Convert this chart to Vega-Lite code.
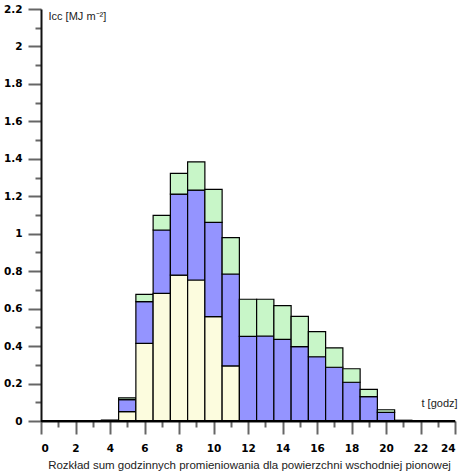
{
  "$schema": "https://vega.github.io/schema/vega-lite/v6.json",
  "width": 414,
  "height": 412,
  "autosize": {"type": "none"},
  "padding": {"left": 41, "top": 9, "right": 7, "bottom": 54},
  "background": "white",
  "config": {
    "view": {"stroke": null},
    "axis": {
      "labelFont": "DejaVu Sans",
      "labelFontSize": 10.5,
      "labelFontWeight": "bold",
      "labelColor": "black",
      "titleFont": "Liberation Sans",
      "titleFontSize": 11,
      "titleFontWeight": "normal",
      "titleColor": "#222",
      "domainColor": "#111111",
      "domainWidth": 2,
      "tickColor": "#666666",
      "tickWidth": 2,
      "grid": false
    }
  },
  "data": {
    "values": [
      {"godz": 1, "skladnik": "odbite", "warstwa": 3, "wartosc": 0.002},
      {"godz": 2, "skladnik": "odbite", "warstwa": 3, "wartosc": 0.002},
      {"godz": 3, "skladnik": "odbite", "warstwa": 3, "wartosc": 0.002},
      {"godz": 4, "skladnik": "rozproszone", "warstwa": 2, "wartosc": 0.005},
      {"godz": 5, "skladnik": "bezposrednie", "warstwa": 1, "wartosc": 0.05},
      {"godz": 5, "skladnik": "rozproszone", "warstwa": 2, "wartosc": 0.064},
      {"godz": 5, "skladnik": "odbite", "warstwa": 3, "wartosc": 0.01},
      {"godz": 6, "skladnik": "bezposrednie", "warstwa": 1, "wartosc": 0.415},
      {"godz": 6, "skladnik": "rozproszone", "warstwa": 2, "wartosc": 0.222},
      {"godz": 6, "skladnik": "odbite", "warstwa": 3, "wartosc": 0.039},
      {"godz": 7, "skladnik": "bezposrednie", "warstwa": 1, "wartosc": 0.682},
      {"godz": 7, "skladnik": "rozproszone", "warstwa": 2, "wartosc": 0.338},
      {"godz": 7, "skladnik": "odbite", "warstwa": 3, "wartosc": 0.078},
      {"godz": 8, "skladnik": "bezposrednie", "warstwa": 1, "wartosc": 0.779},
      {"godz": 8, "skladnik": "rozproszone", "warstwa": 2, "wartosc": 0.433},
      {"godz": 8, "skladnik": "odbite", "warstwa": 3, "wartosc": 0.11},
      {"godz": 9, "skladnik": "bezposrednie", "warstwa": 1, "wartosc": 0.753},
      {"godz": 9, "skladnik": "rozproszone", "warstwa": 2, "wartosc": 0.48},
      {"godz": 9, "skladnik": "odbite", "warstwa": 3, "wartosc": 0.151},
      {"godz": 10, "skladnik": "bezposrednie", "warstwa": 1, "wartosc": 0.557},
      {"godz": 10, "skladnik": "rozproszone", "warstwa": 2, "wartosc": 0.504},
      {"godz": 10, "skladnik": "odbite", "warstwa": 3, "wartosc": 0.176},
      {"godz": 11, "skladnik": "bezposrednie", "warstwa": 1, "wartosc": 0.294},
      {"godz": 11, "skladnik": "rozproszone", "warstwa": 2, "wartosc": 0.491},
      {"godz": 11, "skladnik": "odbite", "warstwa": 3, "wartosc": 0.194},
      {"godz": 12, "skladnik": "rozproszone", "warstwa": 2, "wartosc": 0.452},
      {"godz": 12, "skladnik": "odbite", "warstwa": 3, "wartosc": 0.198},
      {"godz": 13, "skladnik": "rozproszone", "warstwa": 2, "wartosc": 0.454},
      {"godz": 13, "skladnik": "odbite", "warstwa": 3, "wartosc": 0.196},
      {"godz": 14, "skladnik": "rozproszone", "warstwa": 2, "wartosc": 0.436},
      {"godz": 14, "skladnik": "odbite", "warstwa": 3, "wartosc": 0.18},
      {"godz": 15, "skladnik": "rozproszone", "warstwa": 2, "wartosc": 0.397},
      {"godz": 15, "skladnik": "odbite", "warstwa": 3, "wartosc": 0.162},
      {"godz": 16, "skladnik": "rozproszone", "warstwa": 2, "wartosc": 0.343},
      {"godz": 16, "skladnik": "odbite", "warstwa": 3, "wartosc": 0.134},
      {"godz": 17, "skladnik": "rozproszone", "warstwa": 2, "wartosc": 0.287},
      {"godz": 17, "skladnik": "odbite", "warstwa": 3, "wartosc": 0.104},
      {"godz": 18, "skladnik": "rozproszone", "warstwa": 2, "wartosc": 0.207},
      {"godz": 18, "skladnik": "odbite", "warstwa": 3, "wartosc": 0.072},
      {"godz": 19, "skladnik": "rozproszone", "warstwa": 2, "wartosc": 0.13},
      {"godz": 19, "skladnik": "odbite", "warstwa": 3, "wartosc": 0.039},
      {"godz": 20, "skladnik": "rozproszone", "warstwa": 2, "wartosc": 0.046},
      {"godz": 20, "skladnik": "odbite", "warstwa": 3, "wartosc": 0.014},
      {"godz": 21, "skladnik": "rozproszone", "warstwa": 2, "wartosc": 0.004},
      {"godz": 22, "skladnik": "odbite", "warstwa": 3, "wartosc": 0.002},
      {"godz": 23, "skladnik": "odbite", "warstwa": 3, "wartosc": 0.002}
    ]
  },
  "resolve": {
    "scale": {"x": "shared", "y": "shared"},
    "axis": {"x": "independent", "y": "independent"}
  },
  "layer": [
    {
      "mark": {"type": "bar", "size": 17.25, "stroke": "black", "strokeWidth": 1.2},
      "encoding": {
        "x": {
          "field": "godz",
          "type": "quantitative",
          "scale": {"domain": [0, 24], "nice": false, "zero": false, "padding": 0},
          "axis": {
            "orient": "bottom",
            "values": [1,3,5,7,9,11,13,15,17,19,21,23],
            "labels": false,
            "domain": false,
            "tickSize": 6,
            "title": "Rozkład sum godzinnych promieniowania dla powierzchni wschodniej pionowej",
            "titleFontSize": 11.5,
            "titleX": 208,
            "titleY": 47,
            "titleAlign": "center",
            "titleBaseline": "alphabetic"
          }
        },
        "y": {
          "field": "wartosc",
          "type": "quantitative",
          "stack": "zero",
          "scale": {"domain": [0, 2.2], "nice": false, "padding": 0},
          "axis": {
            "orient": "left",
            "values": [0.1,0.3,0.5,0.7,0.9,1.1,1.3,1.5,1.7,1.9,2.1],
            "labels": false,
            "domain": false,
            "tickSize": 6,
            "title": null
          }
        },
        "color": {
          "field": "skladnik",
          "type": "nominal",
          "scale": {"domain": ["bezposrednie", "rozproszone", "odbite"], "range": ["#fcfcde", "#9494ff", "#c8f6c8"]},
          "legend": null
        },
        "order": {"field": "warstwa", "type": "quantitative"}
      }
    },
    {
      "mark": {"type": "rule", "color": "black", "strokeWidth": 1},
      "encoding": {
        "x": {
          "datum": 0,
          "type": "quantitative",
          "axis": {
            "orient": "bottom",
            "values": [0,2,4,6,8,10,12,14,16,18,20,22,24],
            "format": "d",
            "tickSize": 13,
            "labelPadding": 9,
            "title": "t [godz]",
            "titleX": 380,
            "titleY": -15,
            "titleAlign": "left",
            "titleBaseline": "alphabetic"
          }
        },
        "x2": {"datum": 24},
        "y": {
          "datum": 0,
          "type": "quantitative",
          "axis": {
            "orient": "left",
            "values": [0,0.2,0.4,0.6,0.8,1,1.2,1.4,1.6,1.8,2,2.2],
            "format": "~g",
            "tickSize": 13,
            "labelPadding": 6,
            "title": "Icc [MJ m⁻²]",
            "titleAngle": 0,
            "titleX": 7,
            "titleY": 10,
            "titleAlign": "left",
            "titleBaseline": "alphabetic"
          }
        }
      }
    }
  ]
}
